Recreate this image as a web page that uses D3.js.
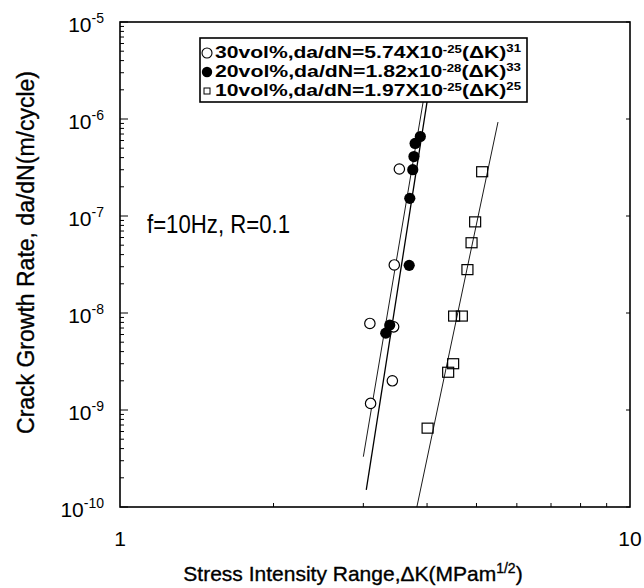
<!DOCTYPE html>
<html>
<head>
<meta charset="utf-8">
<script src="https://cdn.jsdelivr.net/npm/d3@7"></script>
<style>
body { margin: 0; background: #fff; }
text { font-family: "Liberation Sans", Arial, sans-serif; fill: #000; }
</style>
</head>
<body>
<div id="chart"></div>
<script>
// fatigue crack growth, three SiC vol% composites
const W = 644, H = 588;
const margin = {top: 22, right: 14, bottom: 81, left: 120};
const width = W - margin.left - margin.right;
const height = H - margin.top - margin.bottom;

// data: [dK (MPa m^1/2), da/dN (m/cycle)]
const vol30 = [[3.53, 3.05e-7], [3.45, 3.13e-8], [3.09, 7.8e-9], [3.44, 7.2e-9], [3.42, 2.0e-9], [3.10, 1.17e-9]];
const vol20 = [[3.88, 6.6e-7], [3.79, 5.6e-7], [3.77, 4.1e-7], [3.75, 3.0e-7], [3.70, 1.52e-7], [3.69, 3.1e-8], [3.38, 7.5e-9], [3.32, 6.2e-9]];
const vol10 = [[5.13, 2.86e-7], [4.97, 8.7e-8], [4.89, 5.3e-8], [4.80, 2.8e-8], [4.52, 9.3e-9], [4.68, 9.3e-9], [4.50, 3.0e-9], [4.40, 2.45e-9], [4.01, 6.5e-10]];

// fitted lines, end points
const fit30 = [[3.0, 3.3e-10], [3.93, 1.5e-6]];
const fit20 = [[3.04, 1.5e-10], [4.0, 1.5e-6]];
const fit10 = [[3.82, 1.0e-10], [5.51, 9.3e-7]];

const legendNames = ["30vol%", "20vol%", "10vol%"];
const legendCoef = ["5.74X10", "1.82x10", "1.97X10"];
const legendCoefExp = ["-25", "-28", "-25"];
const legendPow = ["31", "33", "25"];

const yExps = [-5, -6, -7, -8, -9, -10];
const xTickLabels = [1, 10];

const svg = d3.select("#chart").append("svg")
  .attr("width", W).attr("height", H);
const g = svg.append("g").attr("transform", "translate(" + margin.left + "," + margin.top + ")");

const x = d3.scaleLog().domain([1, 10]).range([0, width]);
const y = d3.scaleLog().domain([1e-10, 1e-5]).range([height, 0]);

// minor ticks
const xMinor = d3.range(2, 10);
g.selectAll(".xminor").data(xMinor).join("line")
  .attr("x1", d => x(d)).attr("x2", d => x(d))
  .attr("y1", height).attr("y2", height - 4)
  .attr("stroke", "#000").attr("stroke-width", 1);

const yMinor = [];
yExps.slice(1).forEach(e => { for (let m = 2; m < 10; m++) yMinor.push(m * Math.pow(10, e)); });
g.selectAll(".yminor").data(yMinor).join("line")
  .attr("x1", 0).attr("x2", 4)
  .attr("y1", d => y(d)).attr("y2", d => y(d))
  .attr("stroke", "#000").attr("stroke-width", 1);
g.selectAll(".ymajor").data(yExps).join("line")
  .attr("x1", 0).attr("x2", 8)
  .attr("y1", d => y(Math.pow(10, d))).attr("y2", d => y(Math.pow(10, d)))
  .attr("stroke", "#000").attr("stroke-width", 1);
g.selectAll(".ymajorR").data(yExps).join("line")
  .attr("x1", width).attr("x2", width - 4)
  .attr("y1", d => y(Math.pow(10, d))).attr("y2", d => y(Math.pow(10, d)))
  .attr("stroke", "#000").attr("stroke-width", 1);

// frame
g.append("rect").attr("width", width).attr("height", height)
  .attr("fill", "none").attr("stroke", "#000").attr("stroke-width", 1.6);

// y tick labels 10^n
const ylab = g.selectAll(".ylab").data(yExps).join("text")
  .attr("x", -16).attr("y", d => y(Math.pow(10, d)) + 10)
  .attr("text-anchor", "end")
  .style("font-size", "21px");
ylab.append("tspan").text("10");
ylab.append("tspan").attr("dy", -9).style("font-size", "14px").text(d => d);

// x tick labels
g.selectAll(".xlab").data(xTickLabels).join("text")
  .attr("x", d => x(d)).attr("y", height + 39)
  .attr("text-anchor", "middle")
  .style("font-size", "21px")
  .text(d => d);

// axis titles
const xt = svg.append("text")
  .attr("x", margin.left + width / 2 - 22).attr("y", H - 7)
  .attr("text-anchor", "middle")
  .style("font-size", "21px")
  .style("stroke", "#000").style("stroke-width", 0.35);
xt.append("tspan").text("Stress Intensity Range,\u0394K(MPam");
xt.append("tspan").attr("dy", -8).style("font-size", "14px").text("1/2");
xt.append("tspan").attr("dy", 8).text(")");

svg.append("text")
  .attr("transform", "translate(34," + (margin.top + height / 2 - 12) + ") rotate(-90)")
  .attr("text-anchor", "middle")
  .style("font-size", "23px")
  .style("stroke", "#000").style("stroke-width", 0.35)
  .text("Crack Growth Rate, da/dN(m/cycle)");

// annotation
g.append("text")
  .attr("x", 27).attr("y", 211)
  .attr("textLength", 143).attr("lengthAdjust", "spacingAndGlyphs")
  .style("font-size", "26px")
  .text("f=10Hz, R=0.1");

// fit lines
const line = d3.line().x(d => x(d[0])).y(d => y(d[1]));
g.append("path").datum(fit30).attr("d", line).attr("fill", "none").attr("stroke", "#000").attr("stroke-width", 0.9);
g.append("path").datum(fit20).attr("d", line).attr("fill", "none").attr("stroke", "#000").attr("stroke-width", 1.3);
g.append("path").datum(fit10).attr("d", line).attr("fill", "none").attr("stroke", "#000").attr("stroke-width", 0.9);

// points
g.selectAll(".p30").data(vol30).join("circle")
  .attr("cx", d => x(d[0])).attr("cy", d => y(d[1])).attr("r", 5.2)
  .attr("fill", "#fff").attr("stroke", "#000").attr("stroke-width", 1.2);
g.selectAll(".p20").data(vol20).join("circle")
  .attr("cx", d => x(d[0])).attr("cy", d => y(d[1])).attr("r", 5.6)
  .attr("fill", "#000");
g.selectAll(".p10").data(vol10).join("rect")
  .attr("x", d => x(d[0]) - 5.5).attr("y", d => y(d[1]) - 5)
  .attr("width", 11).attr("height", 10)
  .attr("fill", "none").attr("stroke", "#000").attr("stroke-width", 1.2);

// legend
const lg = g.append("g").attr("transform", "translate(80,16)");
lg.append("rect").attr("width", 327).attr("height", 64)
  .attr("fill", "#fff").attr("stroke", "#000").attr("stroke-width", 1.6);
const rowY = [20, 39, 58];
lg.append("circle").attr("cx", 7).attr("cy", rowY[0] - 5).attr("r", 5)
  .attr("fill", "#fff").attr("stroke", "#000").attr("stroke-width", 1.1);
lg.append("circle").attr("cx", 7).attr("cy", rowY[1] - 5).attr("r", 5.2).attr("fill", "#000");
lg.append("rect").attr("x", 4).attr("y", rowY[2] - 8).attr("width", 6).attr("height", 6)
  .attr("fill", "none").attr("stroke", "#000").attr("stroke-width", 1);
legendNames.forEach((nm, i) => {
  const t = lg.append("text").attr("x", 15).attr("y", rowY[i])
    .attr("textLength", 306).attr("lengthAdjust", "spacingAndGlyphs")
    .style("font-size", "16px").style("font-weight", "bold");
  t.append("tspan").text(nm + ",da/dN=" + legendCoef[i]);
  t.append("tspan").attr("dy", -5).style("font-size", "10px").text(legendCoefExp[i]);
  t.append("tspan").attr("dy", 5).text("(\u0394K)");
  t.append("tspan").attr("dy", -6).style("font-size", "10px").text(legendPow[i]);
});
</script>
</body>
</html>
